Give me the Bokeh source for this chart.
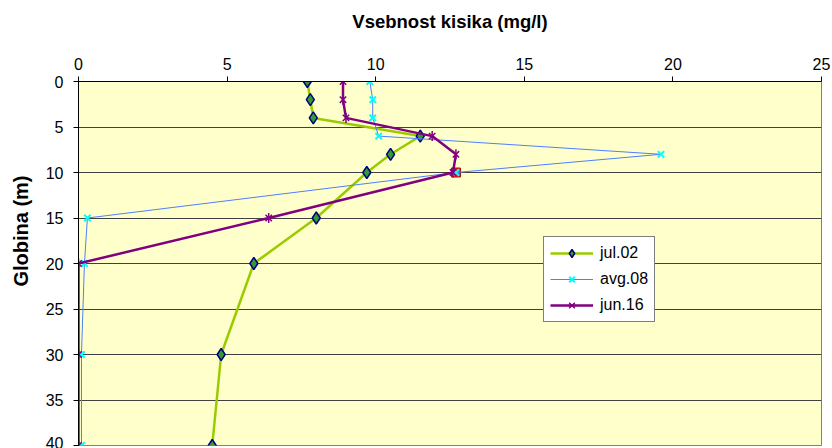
import numpy as np
from bokeh.plotting import figure
from bokeh.models import Range1d, Title, Legend, LegendItem, FixedTicker, ColumnDataSource
from bokeh.embed import file_html
from bokeh.resources import INLINE

# ---- data ----
depths = [0, 2, 4, 6, 8, 10, 15, 20, 30, 40]
jul02 = [7.7, 7.8, 7.9, 11.5, 10.5, 9.7, 8.0, 5.9, 4.8, 4.5]
avg08 = [9.8, 9.9, 9.9, 10.1, 19.6, 12.7, 0.3, 0.2, 0.1, 0.1]
jun16 = [8.9, 8.9, 9.0, 11.9, 12.7, 12.6, 6.4, 0.0, 0.0, 0.0]
highlight_x = [12.7]
highlight_y = [10]
x_ticks = [0, 5, 10, 15, 20, 25]
y_ticks = [0, 5, 10, 15, 20, 25, 30, 35, 40]
series_names = ["jul.02", "avg.08", "jun.16"]
x_title = "Vsebnost kisika (mg/l)"
y_title = "Globina (m)"

FONT = "Liberation Sans"

p = figure(width=832, height=448, output_backend="svg", toolbar_location=None,
           x_range=Range1d(0, 25), y_range=Range1d(40, 0),
           x_axis_location="above",
           min_border_left=78, min_border_right=11, min_border_top=81, min_border_bottom=3)

p.background_fill_color = "#FFFFCC"
p.border_fill_color = "white"
p.outline_line_color = "#808080"
p.outline_line_width = 1

# axes
for ax in (p.xaxis[0], p.yaxis[0]):
    ax.axis_line_color = "black"
    ax.axis_line_width = 1
    ax.major_tick_line_color = "black"
    ax.major_tick_out = 5
    ax.major_tick_in = 0
    ax.minor_tick_line_color = None
    ax.major_label_text_font = FONT
    ax.major_label_text_font_size = "16px"
    ax.major_label_text_color = "black"

p.xaxis[0].ticker = FixedTicker(ticks=x_ticks)
p.yaxis[0].ticker = FixedTicker(ticks=y_ticks)
p.xaxis[0].major_label_standoff = 7
p.yaxis[0].major_label_standoff = 10

p.xaxis[0].axis_label = x_title
p.xaxis[0].axis_label_text_font = FONT
p.xaxis[0].axis_label_text_font_style = "bold"
p.xaxis[0].axis_label_text_font_size = "18.5px"
p.xaxis[0].axis_label_text_color = "black"
p.xaxis[0].axis_label_standoff = 23

p.xgrid.grid_line_color = None
p.ygrid.grid_line_color = "#404040"
p.ygrid.grid_line_width = 1
p.ygrid.ticker = FixedTicker(ticks=y_ticks)

# highlighted point (drawn first, under the markers)
p.scatter(highlight_x, highlight_y, marker="square", size=9,
          fill_color="#FF2020", line_color="#C00000", line_width=1)

src = ColumnDataSource(dict(d=depths, a=jul02, b=avg08, c=jun16))

# jul.02
l1 = p.line("a", "d", source=src, line_color="#99CC00", line_width=2.5)
m1 = p.scatter("a", "d", source=src, marker="diamond", size=12,
               fill_color="#339933", line_color="#000080", line_width=1.5)

# avg.08
l2 = p.line("b", "d", source=src, line_color="#4D7FFF", line_width=1)
m2 = p.scatter("b", "d", source=src, marker="x", size=9,
               line_color="#00FFFF", line_width=2)

# jun.16
l3 = p.line("c", "d", source=src, line_color="#800080", line_width=2.5)
m3 = p.scatter("c", "d", source=src, marker="x", size=9,
               line_color="#800080", line_width=1.5)
m3b = p.scatter("c", "d", source=src, marker="dash", angle=np.pi / 2, size=10,
                line_color="#800080", line_width=1.5)

legend = Legend(items=[
    LegendItem(label=series_names[0], renderers=[l1, m1]),
    LegendItem(label=series_names[1], renderers=[l2, m2]),
    LegendItem(label=series_names[2], renderers=[l3, m3, m3b]),
], location=(465, 123))
legend.label_text_font = FONT
legend.label_text_font_size = "16px"
legend.label_text_color = "black"
legend.glyph_width = 43
legend.glyph_height = 20
legend.label_height = 20
legend.label_standoff = 7
legend.spacing = 6
legend.padding = 6
legend.margin = 0
legend.border_line_color = "black"
legend.border_line_width = 1
legend.background_fill_color = "white"
legend.background_fill_alpha = 1
p.add_layout(legend, "center")

ytitle = Title(text=y_title, align="right", offset=94, vertical_align="top",
               standoff=18, text_font=FONT, text_font_style="bold",
               text_font_size="20px", text_color="black")
p.add_layout(ytitle, "left")

open("out.html", "w").write(file_html(p, INLINE))
